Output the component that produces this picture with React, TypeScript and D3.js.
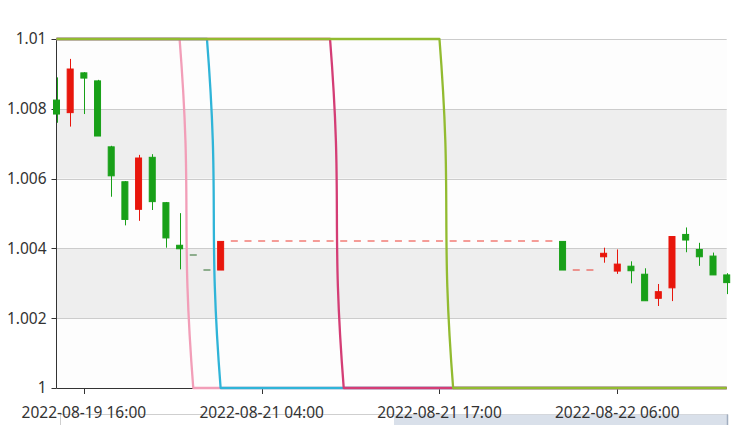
import React from 'react';
import * as d3 from 'd3';

const categories: string[] = [
  '2022-08-19 14:00', '2022-08-19 15:00', '2022-08-19 16:00', '2022-08-19 17:00', '2022-08-19 18:00',
  '2022-08-19 19:00', '2022-08-19 20:00', '2022-08-19 21:00', '2022-08-19 22:00', '2022-08-19 23:00',
  '2022-08-20 00:00',
  '2022-08-21 00:00', '2022-08-21 01:00', '2022-08-21 02:00', '2022-08-21 03:00', '2022-08-21 04:00',
  '2022-08-21 05:00', '2022-08-21 06:00', '2022-08-21 07:00', '2022-08-21 08:00', '2022-08-21 09:00',
  '2022-08-21 10:00', '2022-08-21 11:00', '2022-08-21 12:00', '2022-08-21 13:00', '2022-08-21 14:00',
  '2022-08-21 15:00', '2022-08-21 16:00', '2022-08-21 17:00', '2022-08-21 18:00', '2022-08-21 19:00',
  '2022-08-21 20:00', '2022-08-21 21:00', '2022-08-21 22:00', '2022-08-21 23:00',
  '2022-08-22 00:00', '2022-08-22 01:00', '2022-08-22 02:00', '2022-08-22 03:00', '2022-08-22 04:00',
  '2022-08-22 05:00', '2022-08-22 06:00', '2022-08-22 07:00', '2022-08-22 08:00', '2022-08-22 09:00',
  '2022-08-22 10:00', '2022-08-22 11:00', '2022-08-22 12:00', '2022-08-22 13:00', '2022-08-22 14:00',
];

// [open, close, low, high]
const candles: [number, number, number, number][] = [
  [1.00825, 1.00785, 1.0076, 1.0089],
  [1.00789, 1.00914, 1.00749, 1.00943],
  [1.00903, 1.00888, 1.00785, 1.00905],
  [1.0088, 1.00722, 1.00722, 1.00883],
  [1.00691, 1.00608, 1.00548, 1.00694],
  [1.00591, 1.00483, 1.00466, 1.00593],
  [1.00512, 1.00659, 1.00479, 1.00668],
  [1.00661, 1.00534, 1.0051, 1.0067],
  [1.00531, 1.0043, 1.00402, 1.00533],
  [1.00409, 1.00399, 1.0034, 1.00501],
  [1.0038, 1.0038, 1.0038, 1.0038],
  [1.00338, 1.00338, 1.00338, 1.00338],
  [1.00338, 1.0042, 1.00338, 1.0042],
  [1.0042, 1.0042, 1.0042, 1.0042],
  [1.0042, 1.0042, 1.0042, 1.0042],
  [1.0042, 1.0042, 1.0042, 1.0042],
  [1.0042, 1.0042, 1.0042, 1.0042],
  [1.0042, 1.0042, 1.0042, 1.0042],
  [1.0042, 1.0042, 1.0042, 1.0042],
  [1.0042, 1.0042, 1.0042, 1.0042],
  [1.0042, 1.0042, 1.0042, 1.0042],
  [1.0042, 1.0042, 1.0042, 1.0042],
  [1.0042, 1.0042, 1.0042, 1.0042],
  [1.0042, 1.0042, 1.0042, 1.0042],
  [1.0042, 1.0042, 1.0042, 1.0042],
  [1.0042, 1.0042, 1.0042, 1.0042],
  [1.0042, 1.0042, 1.0042, 1.0042],
  [1.0042, 1.0042, 1.0042, 1.0042],
  [1.0042, 1.0042, 1.0042, 1.0042],
  [1.0042, 1.0042, 1.0042, 1.0042],
  [1.0042, 1.0042, 1.0042, 1.0042],
  [1.0042, 1.0042, 1.0042, 1.0042],
  [1.0042, 1.0042, 1.0042, 1.0042],
  [1.0042, 1.0042, 1.0042, 1.0042],
  [1.0042, 1.0042, 1.0042, 1.0042],
  [1.0042, 1.0042, 1.0042, 1.0042],
  [1.0042, 1.0042, 1.0042, 1.0042],
  [1.0042, 1.00338, 1.00338, 1.0042],
  [1.00338, 1.00338, 1.00338, 1.00338],
  [1.00338, 1.00338, 1.00338, 1.00338],
  [1.00376, 1.00386, 1.00359, 1.00402],
  [1.00335, 1.00355, 1.00327, 1.00397],
  [1.00349, 1.00336, 1.003, 1.00363],
  [1.00326, 1.0025, 1.0025, 1.00343],
  [1.00257, 1.00276, 1.00235, 1.00298],
  [1.00287, 1.00434, 1.00249, 1.00434],
  [1.0044, 1.00424, 1.00389, 1.0046],
  [1.00397, 1.00376, 1.0035, 1.00416],
  [1.00378, 1.00324, 1.00324, 1.00388],
  [1.00324, 1.00302, 1.00269, 1.00329],
];

const H = 1.01;
const L = 1;
const pinkLine = [H, H, H, H, H, H, H, H, H, H, L, L, L, L, L, L, L, L, L, L, L, L, L, L, L, L, L, L, L, L, L, L, L, L, L, L, L, L, L, L, L, L, L, L, L, L, L, L, L, L];
const cyanLine = [H, H, H, H, H, H, H, H, H, H, H, H, L, L, L, L, L, L, L, L, L, L, L, L, L, L, L, L, L, L, L, L, L, L, L, L, L, L, L, L, L, L, L, L, L, L, L, L, L, L];
const magentaLine = [H, H, H, H, H, H, H, H, H, H, H, H, H, H, H, H, H, H, H, H, H, L, L, L, L, L, L, L, L, L, L, L, L, L, L, L, L, L, L, L, L, L, L, L, L, L, L, L, L, L];
const greenLine = [H, H, H, H, H, H, H, H, H, H, H, H, H, H, H, H, H, H, H, H, H, H, H, H, H, H, H, H, H, L, L, L, L, L, L, L, L, L, L, L, L, L, L, L, L, L, L, L, L, L];

const lineSeries = [
  { name: 'pink', values: pinkLine, color: '#f29eb8' },
  { name: 'cyan', values: cyanLine, color: '#2fb4d8' },
  { name: 'magenta', values: magentaLine, color: '#d43d75' },
  { name: 'green', values: greenLine, color: '#92bb30' },
];

const yTicks = [1, 1.002, 1.004, 1.006, 1.008, 1.01];
const xTickLabels = ['2022-08-19 16:00', '2022-08-21 04:00', '2022-08-21 17:00', '2022-08-22 06:00'];

const UP = '#e8160c';
const DOWN = '#18a018';
const FONT = '"Noto Sans", "Open Sans", sans-serif';

function smoothPath(pts: [number, number][], smooth = 0.5): string {
  const p = d3.path();
  let cpx0 = 0;
  let cpy0 = 0;
  const n = pts.length;
  for (let i = 0; i < n; i++) {
    const [x, y] = pts[i];
    const [px, py] = i > 0 ? pts[i - 1] : pts[i];
    const [nx, ny] = i < n - 1 ? pts[i + 1] : pts[i];
    const vx = nx - px;
    const vy = ny - py;
    const lp = Math.hypot(x - px, y - py);
    const ln = Math.hypot(nx - x, ny - y);
    const ratio = lp + ln === 0 ? 0.5 : ln / (lp + ln);
    let inX = x - vx * smooth * (1 - ratio);
    let inY = y - vy * smooth * (1 - ratio);
    let outX = x + vx * smooth * ratio;
    let outY = y + vy * smooth * ratio;
    inX = Math.max(Math.min(px, x), Math.min(Math.max(px, x), inX));
    inY = Math.max(Math.min(py, y), Math.min(Math.max(py, y), inY));
    outX = Math.max(Math.min(nx, x), Math.min(Math.max(nx, x), outX));
    outY = Math.max(Math.min(ny, y), Math.min(Math.max(ny, y), outY));
    if (i === 0) {
      p.moveTo(x, y);
    } else {
      p.bezierCurveTo(cpx0, cpy0, inX, inY, x, y);
    }
    cpx0 = outX;
    cpy0 = outY;
  }
  return p.toString();
}

export default function App() {
  const width = 745;
  const height = 425;
  const left = 56.5;
  const right = 726.7;
  const top = 39;
  const bottom = 388;

  const x = d3.scalePoint<string>().domain(categories).range([left, right]);
  const y = d3.scaleLinear().domain([1, 1.01]).range([bottom, top]);
  const bodyW = 6;

  const fmt = (v: number) => String(+v.toFixed(3));

  const bands = yTicks.slice(0, -1).map((v, i) => ({ y0: y(yTicks[i + 1]), y1: y(v), dark: i % 2 === 1 }));

  const sign = (i: number) => {
    const [o, c] = candles[i];
    if (o > c) return -1;
    if (o < c) return 1;
    return i > 0 ? (candles[i - 1][1] <= c ? 1 : -1) : 1;
  };

  const sliderLeft = 60.5;
  const sliderRight = 727.5;
  const sliderTop = 414.5;
  const zoomStart = 0.5;

  return (
    <div style={{ position: 'absolute', left: 0, top: 0, width, height, overflow: 'hidden', background: '#fff' }}>
      <svg width={width} height={height} style={{ display: 'block' }}>
        {/* split areas */}
        {bands.map((b, i) => (
          <rect key={'band' + i} x={left} y={b.y0} width={right - left} height={b.y1 - b.y0} fill={b.dark ? '#eeeeee' : '#fdfdfd'} />
        ))}
        {/* split lines */}
        {yTicks.map((v) => (
          <line key={'gl' + v} x1={left} x2={right} y1={Math.round(y(v)) + 0.5} y2={Math.round(y(v)) + 0.5} stroke="#cccccc" strokeWidth={1} />
        ))}
        {/* data zoom slider */}
        <rect x={sliderLeft} y={sliderTop} width={sliderRight - sliderLeft} height={height - sliderTop + 5} fill="#ffffff" stroke="#cfcfcf" strokeWidth={1} />
        <rect
          x={sliderLeft + (sliderRight - sliderLeft) * zoomStart}
          y={sliderTop}
          width={(sliderRight - sliderLeft) * (1 - zoomStart)}
          height={height - sliderTop}
          fill="#d9e0ea"
        />
        <line x1={sliderRight} x2={sliderRight} y1={sliderTop} y2={height} stroke="#a0adbf" strokeWidth={1.5} />
        {/* y axis */}
        <line x1={left} x2={left} y1={top} y2={bottom} stroke="#333" strokeWidth={1} />
        {yTicks.map((v) => (
          <g key={'yt' + v}>
            <line x1={left - 5} x2={left} y1={Math.round(y(v)) + 0.5} y2={Math.round(y(v)) + 0.5} stroke="#333" strokeWidth={1} />
            <text x={46.5} y={y(v)} dy="0.35em" textAnchor="end" fontFamily={FONT} fontSize={15.5} fill="#333">
              {fmt(v)}
            </text>
          </g>
        ))}
        {/* x axis */}
        <line x1={left} x2={right} y1={bottom + 0.5} y2={bottom + 0.5} stroke="#333" strokeWidth={1} />
        {xTickLabels.map((c) => {
          const cx = Math.round(x(c) as number) + 0.5;
          return (
            <g key={'xt' + c}>
              <line x1={cx} x2={cx} y1={bottom} y2={bottom + 6} stroke="#333" strokeWidth={1} />
              <text x={x(c)} y={417.5} textAnchor="middle" fontFamily={FONT} fontSize={15.5} fill="#333">
                {c}
              </text>
            </g>
          );
        })}
        {/* candles */}
        {candles.map((d, i) => {
          const [o, c, lo, hi] = d;
          const cx = x(categories[i]) as number;
          const up = sign(i) > 0;
          const col = up ? UP : DOWN;
          const yTop = y(Math.max(o, c));
          const yBot = y(Math.min(o, c));
          const wx = Math.round(cx) + 0.5;
          return (
            <g key={'c' + i}>
              {hi !== lo && <line x1={wx} x2={wx} y1={y(hi)} y2={y(lo)} stroke={col} strokeWidth={1} />}
              {o === c ? (
                <line
                  x1={cx - bodyW / 2 - 0.5}
                  x2={cx + bodyW / 2 + 0.5}
                  y1={Math.round(yTop)}
                  y2={Math.round(yTop)}
                  stroke={up ? col : '#2f6f2f'}
                  strokeWidth={1.2}
                  strokeOpacity={up ? 0.7 : 0.85}
                />
              ) : (
                <rect x={cx - bodyW / 2} y={yTop} width={bodyW} height={yBot - yTop} fill={col} stroke={col} strokeWidth={1} />
              )}
            </g>
          );
        })}
        {/* lines */}
        {lineSeries.map((s) => (
          <path
            key={s.name}
            d={smoothPath(s.values.map((v, i) => [x(categories[i]) as number, y(v)] as [number, number]))}
            fill="none"
            stroke={s.color}
            strokeWidth={2.3}
            strokeLinejoin="round"
          />
        ))}
      </svg>
    </div>
  );
}
